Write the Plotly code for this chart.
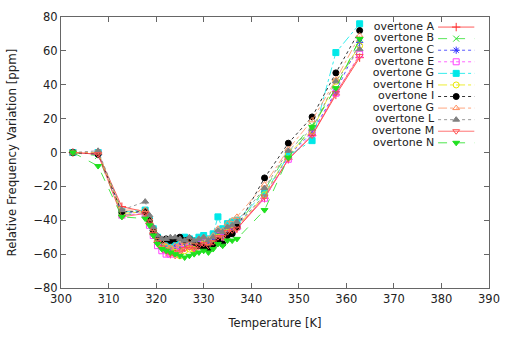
import plotly.graph_objects as go

temps = [302.5, 307.8, 312.8, 317.7, 318.6, 319.4, 320.3, 321.2, 322.1, 323.0, 324.0, 325.0,
         326.0, 327.0, 328.0, 329.0, 330.0, 331.0, 332.0, 333.0, 334.0, 335.0, 336.0, 337.0,
         342.8, 347.8, 352.8, 357.8, 362.8]

ov_A = [0, -1, -32, -35, -42, -48, -53, -56, -59, -60, -58, -57, -56, -55, -57, -55, -54, -55, -53, -50, -51, -48, -47, -45, -27, -4, 10, 34, 56]
ov_B = [0, -2, -37, -36, -41, -47, -52, -55, -57, -58, -57, -56, -55, -54, -56, -54, -53, -54, -52, -48, -49, -46, -45, -43, -22, 0, 16, 38, 67]
ov_C = [0, -1, -36, -35, -40, -46, -51, -54, -55, -56, -55, -54, -53, -52, -54, -52, -51, -53, -51, -47, -49, -45, -45, -43, -25, -2, 12, 36, 65]
ov_E = [0, 0, -37, -36, -43, -49, -55, -58, -60, -60, -58, -57, -55, -55, -56, -54, -53, -54, -52, -49, -50, -47, -46, -44, -27, -4, 11, 35, 58]
ov_G = [0, 0, -35, -34, -40, -45, -50, -52, -53, -54, -52, -51, -50, -51, -52, -50, -49, -51, -48, -38, -45, -42, -41, -40, -24, -2, 7, 59, 76]
ov_H = [0, 0, -36, -35, -41, -47, -52, -54, -56, -57, -59, -61, -58, -57, -57, -55, -54, -56, -54, -50, -51, -47, -46, -44, -25, -1, 13, 42, 63]
ov_I = [0, -1, -35, -35, -40, -46, -50, -52, -51, -52, -51, -50, -52, -51, -53, -55, -56, -57, -55, -52, -54, -49, -48, -44, -15, 5.5, 21, 47, 72]
ov_G2 = [0, 0, -34, -34, -39, -45, -50, -53, -55, -56, -55, -54, -53, -52, -53, -51, -50, -51, -49, -45, -46, -42, -40, -38, -19, 2, 19, 43, 69]
ov_L = [0, 1, -34, -29, -37, -44, -49, -51, -51, -50, -50, -51, -52, -50, -52, -51, -50, -52, -50, -46, -47, -44, -43, -41, -21, 1, 14, 42, 61]
ov_M = [0, -1, -38, -36, -42, -48, -53, -56, -58, -60, -61, -59, -57, -56, -57, -55, -54, -55, -53, -50, -50, -47, -46, -45, -26, -4, 10, 35, 57]
ov_N = [0, -8, -38, -39, -43, -49, -54, -57, -58, -59, -60, -61, -62, -61, -60, -59, -58, -59, -57, -54, -55, -52, -52, -51, -34, -3, 15, 38, 67]

names = ["overtone A", "overtone B", "overtone C", "overtone E", "overtone G", "overtone H",
         "overtone I", "overtone G", "overtone L", "overtone M", "overtone N"]
series = [ov_A, ov_B, ov_C, ov_E, ov_G, ov_H, ov_I, ov_G2, ov_L, ov_M, ov_N]
colors = ["#ff3030", "#30e030", "#3030ff", "#ff40ff", "#00e8e8", "#e8e800",
          "#000000", "#ff9060", "#808080", "#ff5050", "#20e020"]
dashes = ["solid", "dash", "dot", "dot", "dashdot", "dashdot", "dot", "dashdot", "dot", "solid", "dash"]
symbols = ["cross-thin-open", "x-thin-open", "asterisk-open", "square-open", "square", "circle-open",
           "circle", "triangle-up-open", "triangle-up", "triangle-down-open", "triangle-down"]

FONT = "DejaVu Sans, Verdana, sans-serif"

# plot-area geometry in pixels (used for the gnuplot-style key on an overlay axis)
W, H = 510, 338
ML, MR, MT, MB = 61, 12, 10, 40
KEY_TOP, KEY_STEP = 20.7, 12.3
KEY_TEXT_X, KEY_L0, KEY_L1 = 442, 446, 483

fig = go.Figure()
for name, vals, c, d, s in zip(names, series, colors, dashes, symbols):
    fig.add_trace(go.Scatter(
        x=temps, y=vals, mode="lines+markers", name=name, showlegend=False,
        line=dict(color=c, width=0.8, dash=d),
        marker=dict(symbol=s, size=6, color=c, line=dict(color=c, width=1)),
    ))

key_y = [KEY_TOP + i * KEY_STEP for i in range(len(names))]
for i, (name, c, d, s) in enumerate(zip(names, colors, dashes, symbols)):
    yk = key_y[i]
    fig.add_trace(go.Scatter(
        x=[KEY_L0, KEY_L1], y=[yk, yk], xaxis="x2", yaxis="y2", mode="lines",
        line=dict(color=c, width=0.8, dash=d), showlegend=False, hoverinfo="skip"))
    fig.add_trace(go.Scatter(
        x=[(KEY_L0 + KEY_L1) / 2], y=[yk], xaxis="x2", yaxis="y2", mode="markers",
        marker=dict(symbol=s, size=6, color=c, line=dict(color=c, width=1)),
        showlegend=False, hoverinfo="skip"))
fig.add_trace(go.Scatter(
    x=[KEY_TEXT_X] * len(names), y=key_y, xaxis="x2", yaxis="y2", mode="text",
    text=names, textposition="middle left",
    textfont=dict(family=FONT, size=11, color="#222"),
    showlegend=False, hoverinfo="skip"))

fig.update_layout(
    width=W, height=H,
    margin=dict(l=ML, r=MR, t=MT, b=MB),
    paper_bgcolor="white", plot_bgcolor="white",
    font=dict(family=FONT, size=11.5, color="#222"),
    showlegend=False,
    xaxis2=dict(overlaying="x", range=[ML, W - MR], visible=False, fixedrange=True),
    yaxis2=dict(overlaying="y", range=[H - MB, MT], visible=False, fixedrange=True),
    xaxis=dict(range=[300, 390], dtick=10, showgrid=False, zeroline=False,
               showline=True, linecolor="#666", linewidth=1, mirror="ticks",
               ticks="inside", ticklen=5, tickcolor="#666",
               title=dict(text="Temperature [K]", standoff=14, font=dict(size=11.5)),
               tickfont=dict(size=11.5)),
    yaxis=dict(range=[-80, 80], dtick=20, showgrid=False, zeroline=False,
               showline=True, linecolor="#666", linewidth=1, mirror="ticks",
               ticks="inside", ticklen=5, tickcolor="#666",
               title=dict(text="Relative Frequency Variation [ppm]", standoff=14, font=dict(size=11.8)),
               tickfont=dict(size=11.5)),
)

fig.write_html("out.html")
